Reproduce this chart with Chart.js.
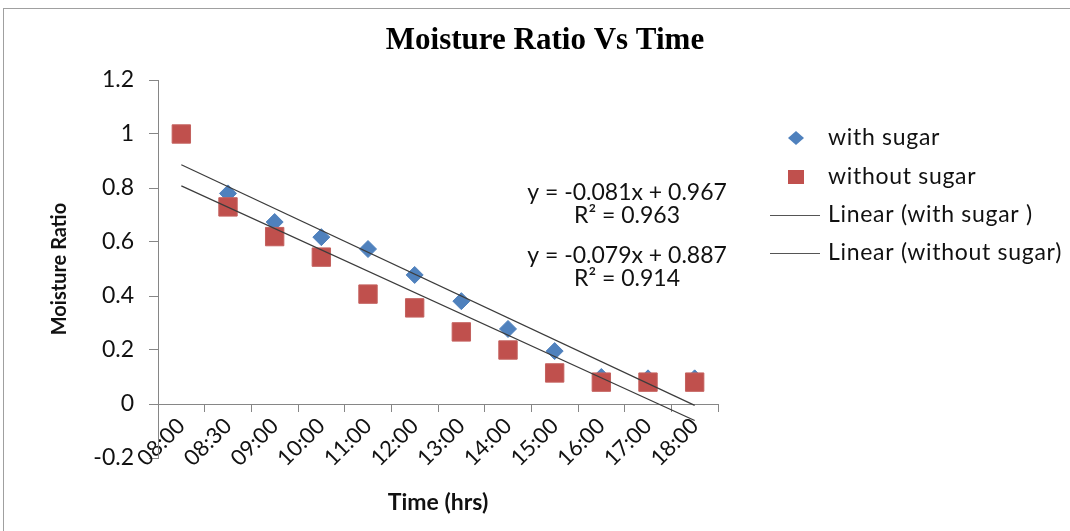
<!DOCTYPE html>
<html><head><meta charset="utf-8">
<script src="https://cdn.jsdelivr.net/npm/chart.js@4.4.1/dist/chart.umd.min.js"></script>
<style>
html,body{margin:0;padding:0;background:#fff;overflow:hidden}
#wrap{position:relative;width:1070px;height:531px;overflow:hidden;background:#fff}
#frame{position:absolute;left:3px;top:8px;width:1200px;height:700px;border:1px solid #a0a0a0;box-sizing:border-box}
canvas{position:absolute;left:0;top:0}
</style></head><body>
<div id="wrap"><div id="frame"></div><canvas id="c" width="1070" height="531"></canvas></div>
<script>
const chartTitle = 'Moisture Ratio Vs Time';
const xTitle = 'Time (hrs)';
const yTitle = 'Moisture Ratio';
const categories = ['08:00','08:30','09:00','10:00','11:00','12:00','13:00','14:00','15:00','16:00','17:00','18:00'];
const withSugar = [1.0, 0.78, 0.674, 0.618, 0.574, 0.478, 0.381, 0.278, 0.196, 0.1, 0.095, 0.095];
const withoutSugar = [1.0, 0.73, 0.62, 0.544, 0.407, 0.356, 0.267, 0.2, 0.115, 0.081, 0.081, 0.081];
const trendWithSugar = [0.886, null, null, null, null, null, null, null, null, null, null, -0.005];
const trendWithoutSugar = [0.808, null, null, null, null, null, null, null, null, null, null, -0.061];
const yTicks = [-0.2, 0, 0.2, 0.4, 0.6, 0.8, 1.0, 1.2];
const legendLabels = ['with sugar', 'without sugar', 'Linear (with sugar )', 'Linear (without sugar)'];
const equationLabels = ['y = -0.081x + 0.967', 'R\u00B2 = 0.963', 'y = -0.079x + 0.887', 'R\u00B2 = 0.914'];

const BLUE = '#4F81BD', RED = '#C0504D', AXIS = '#868686', TREND = '#3c3c3c';
Chart.defaults.font.family = 'Lato, "Open Sans", sans-serif';
Chart.defaults.color = '#111';

const annot = {
  id: 'annot',
  afterDraw(chart) {
    const ctx = chart.ctx;
    ctx.save();
    ctx.fillStyle = '#000';
    ctx.textAlign = 'center';
    ctx.textBaseline = 'middle';
    ctx.font = 'bold 31px "Liberation Serif"';
    ctx.fillText(chartTitle, 545, 41);
    ctx.font = '23px Lato';
    ctx.fillStyle = '#111';
    const eqY = [193, 216, 256, 279];
    equationLabels.forEach((t, i) => ctx.fillText(t, 627, eqY[i]));
    // legend
    const ly = [138, 177, 215, 253];
    ctx.textAlign = 'left';
    if ('letterSpacing' in ctx) ctx.letterSpacing = '0.7px';
    legendLabels.forEach((t, i) => ctx.fillText(t, 828, ly[i]));
    if ('letterSpacing' in ctx) ctx.letterSpacing = '0px';
    // diamond
    ctx.fillStyle = BLUE;
    ctx.beginPath();
    ctx.moveTo(796, ly[0] - 7); ctx.lineTo(804, ly[0]); ctx.lineTo(796, ly[0] + 7); ctx.lineTo(788, ly[0]);
    ctx.closePath(); ctx.fill();
    ctx.fillStyle = RED;
    ctx.fillRect(788, ly[1] - 7, 16, 14);
    ctx.strokeStyle = '#555';
    ctx.lineWidth = 1.2;
    [2, 3].forEach(i => { ctx.beginPath(); ctx.moveTo(770, ly[i] + 0.5); ctx.lineTo(820, ly[i] + 0.5); ctx.stroke(); });
    ctx.restore();
  }
};

new Chart(document.getElementById('c'), {
  type: 'line',
  data: {
    labels: categories,
    datasets: [
      { label: 'without sugar', data: withoutSugar, showLine: false, pointStyle: 'rect', pointRadius: 13, pointHoverRadius: 13,
        backgroundColor: RED, borderColor: '#c4615e', pointBorderWidth: 1, order: 1 },
      { label: 'with sugar', data: withSugar, showLine: false, pointStyle: 'rectRot', pointRadius: 8.5, pointHoverRadius: 8.5,
        backgroundColor: BLUE, borderColor: BLUE, pointBorderWidth: 1, order: 2 },
      { label: 'Linear (with sugar )', data: trendWithSugar, spanGaps: true, borderColor: TREND, borderWidth: 1.2, pointRadius: 0, fill: false, order: 0 },
      { label: 'Linear (without sugar)', data: trendWithoutSugar, spanGaps: true, borderColor: TREND, borderWidth: 1.2, pointRadius: 0, fill: false, order: 0 }
    ]
  },
  options: {
    responsive: false,
    animation: false,
    events: [],
    layout: { padding: { left: 0, top: 80, right: 352, bottom: 73 } },
    plugins: { legend: { display: false }, title: { display: false }, tooltip: { enabled: false } },
    scales: {
      x: {
        type: 'category',
        position: { y: 0 },
        offset: true,
        border: { color: AXIS, width: 1 },
        grid: { offset: true, drawOnChartArea: false, tickLength: 7, color: AXIS },
        ticks: { minRotation: 45, maxRotation: 45, autoSkip: false, padding: 2, font: { size: 22 }, color: '#111' },
        title: { display: true, text: xTitle, font: { size: 23, weight: 'bold' }, color: '#111', padding: { top: 15, bottom: 0 } }
      },
      y: {
        min: -0.2, max: 1.2,
        border: { color: AXIS, width: 1 },
        grid: { drawOnChartArea: false, tickLength: 9, color: AXIS },
        afterBuildTicks: s => { s.ticks = yTicks.map(v => ({ value: v })); },
        afterFit: s => { s.width = 158; },
        ticks: { padding: 15, font: { size: 23 }, color: '#111', callback: v => String(Number(v.toFixed(1))) },
        title: { display: true, text: yTitle, font: { size: 20, weight: 'bold' }, color: '#111', padding: { top: 48, bottom: 0 } }
      }
    }
  },
  plugins: [annot]
});
</script>
</body></html>
